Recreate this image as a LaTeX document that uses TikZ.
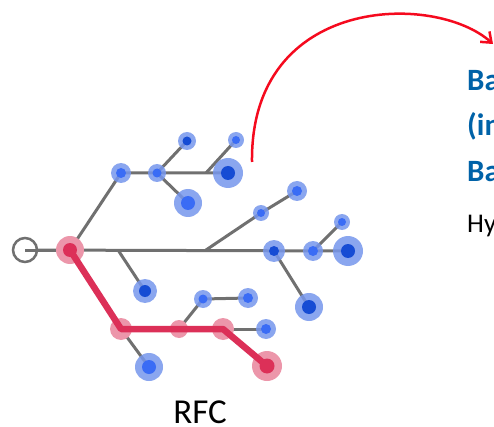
\documentclass[tikz,border=0pt]{standalone}
\usepackage{fontspec}
\setmainfont{Carlito}
\usetikzlibrary{arrows.meta}
\definecolor{edgegray}{RGB}{112,112,112}
\definecolor{haloblue}{RGB}{118,150,236}
\definecolor{dotlight}{RGB}{58,108,245}
\definecolor{dotdark}{RGB}{22,76,212}
\definecolor{halored}{RGB}{236,150,170}
\definecolor{redc}{RGB}{220,48,88}
\definecolor{arrowred}{RGB}{245,10,30}
\definecolor{titleblue}{RGB}{0,98,168}
\tikzset{
  edge/.style={draw=edgegray, line width=3pt},
  redpath/.style={draw=redc, line width=6.5pt, line join=round, line cap=round},
  halo/.style={fill=haloblue, fill opacity=0.85},
  redhalo/.style={fill=halored},
  lightdot/.style={fill=dotlight},
  darkdot/.style={fill=dotdark},
  reddot/.style={fill=redc},
  bigtext/.style={font=\fontsize{31}{31}\selectfont\bfseries, text=titleblue, anchor=base west, inner sep=0pt},
}
\begin{document}
\begin{tikzpicture}[x=1pt,y=-1pt]
\useasboundingbox (0,0) rectangle (494,427);
\clip (0,0) rectangle (494,427);
% positions
\coordinate (root) at (25,250);
\coordinate (r0) at (70,250);
\coordinate (r1) at (121,329);
\coordinate (r2) at (179,329);
\coordinate (r3) at (223,329);
\coordinate (r4) at (267,366);
\coordinate (b1) at (121,173);
\coordinate (b2) at (157,173);
\coordinate (b3) at (187,141);
\coordinate (b4) at (188,203);
\coordinate (b5) at (228,173);
\coordinate (b6) at (236,140);
\coordinate (b7) at (145,291);
\coordinate (b8) at (261,213);
\coordinate (b9) at (297,191);
\coordinate (b10) at (274,251);
\coordinate (b11) at (313,251);
\coordinate (b12) at (348,251);
\coordinate (b13) at (342,222);
\coordinate (b14) at (309,307);
\coordinate (b15) at (149,367);
\coordinate (b16) at (203,299);
\coordinate (b17) at (248,298);
\coordinate (b18) at (266,329);
\coordinate (j1) at (206,173);
\coordinate (j2) at (118,250);
\coordinate (j3) at (206,250);
% gray edges
\draw[edge] (root) -- (b12);
\draw[edge] (r0) -- (b1) -- (b5);
\draw[edge] (b2) -- (b3);
\draw[edge] (b2) -- (b4);
\draw[edge] (j1) -- (b6);
\draw[edge] (j2) -- (b7);
\draw[edge] (j3) -- (b8) -- (b9);
\draw[edge] (b11) -- (b13);
\draw[edge] (b10) -- (b14);
\draw[edge] (r1) -- (b15);
\draw[edge] (r2) -- (b16) -- (b17);
\draw[edge] (r3) -- (b18);
% root circle
\draw[draw=edgegray, line width=2.5pt, fill=white] (root) circle[radius=12pt];
\draw[edge] (root) -- (r0);
% red halos below red path
\foreach \n/\r in {r0/14,r1/11,r2/9,r3/11,r4/15}
  \fill[redhalo] (\n) circle[radius=\r pt];
% red path
\draw[redpath] (r0) -- (r1) -- (r3) -- (r4);
% blue halos
\foreach \n/\r in {b1/10,b2/9,b3/9,b4/14,b5/15,b6/8,b7/12,b8/8,b9/10,b10/11,b11/10,b12/15,b13/8,b14/14,b15/14,b16/9,b17/10,b18/10}
  \fill[halo] (\n) circle[radius=\r pt];
% dots
\foreach \n/\r in {b1/5,b2/4.5,b4/7,b6/4,b8/4,b9/5,b11/5,b13/4,b15/7,b16/4.5,b17/5,b18/5}
  \fill[lightdot] (\n) circle[radius=\r pt];
\foreach \n/\r in {b3/4.5,b5/7,b7/6,b10/5,b12/7,b14/7}
  \fill[darkdot] (\n) circle[radius=\r pt];
\foreach \n/\r in {r0/7,r4/7.5}
  \fill[reddot] (\n) circle[radius=\r pt];
% arrow
\coordinate (as) at (252,162);
\coordinate (ae) at (493,44);
\draw[arrowred, line width=2.5pt, -{Straight Barb[length=9pt,width=14pt]}] (as) .. controls (250,-5) and (435,-8) .. (ae);
% texts
\node[bigtext] (t1) at (467,91) {Ba};
\node[bigtext] (t2) at (467,136) {(in};
\node[bigtext] (t3) at (467,182) {Ba};
\node[font=\fontsize{27}{27}\selectfont, anchor=base west, inner sep=0pt] (t4) at (467,233) {Hy};
\node[font=\fontsize{35}{35}\selectfont, anchor=base, inner sep=0pt] (rfc) at (200,423) {RFC};
\end{tikzpicture}
\end{document}
